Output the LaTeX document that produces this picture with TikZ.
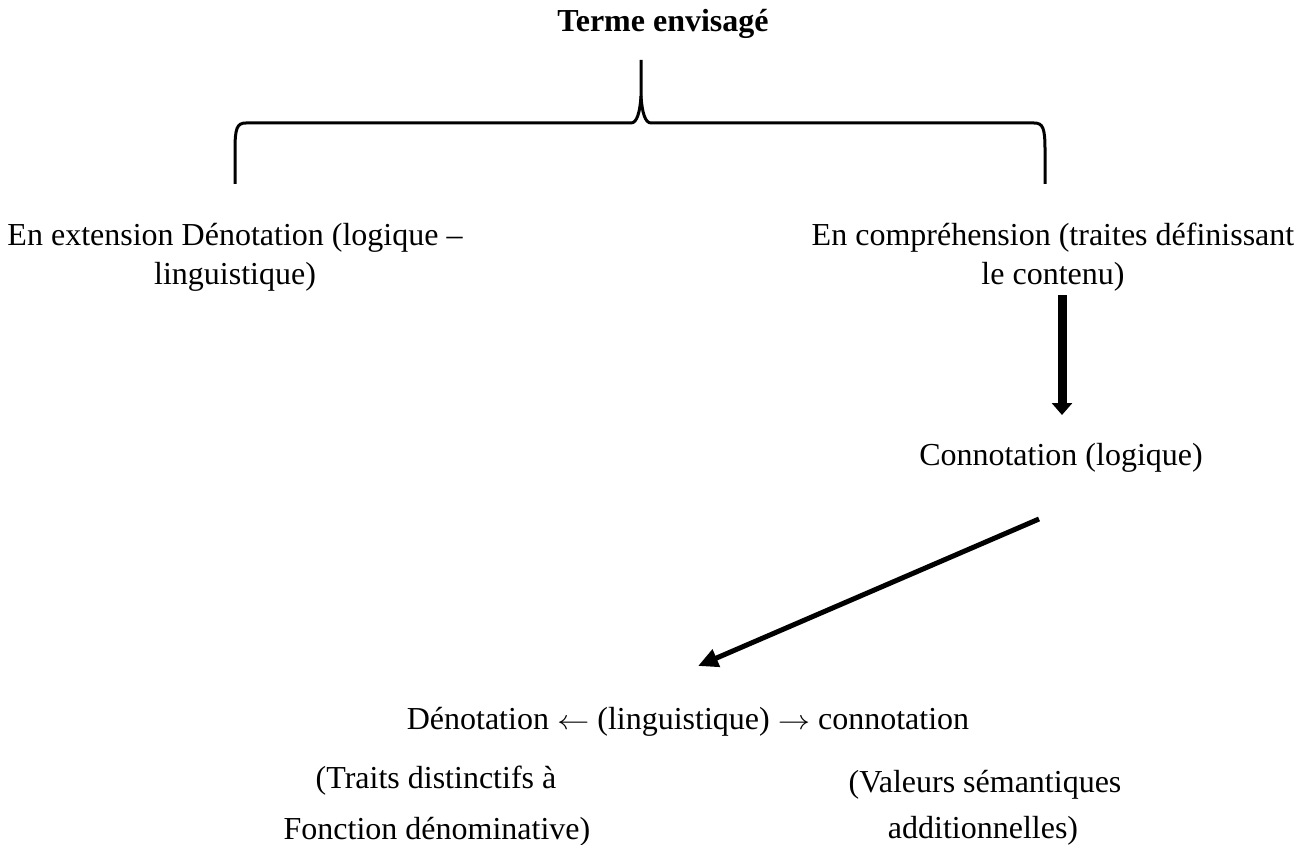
\documentclass[tikz,border=0pt]{standalone}
\usepackage{fontspec}
\setmainfont{Liberation Serif}
\usetikzlibrary{arrows.meta}
\newcommand{\myla}{\scalebox{1.3}[1.1]{$\leftarrow$}}
\newcommand{\myra}{\scalebox{1.3}[1.1]{$\rightarrow$}}
\tikzset{
  txt/.style={inner sep=0pt, align=center, font=\fontsize{32}{39}\selectfont},
  bracestyle/.style={line width=3pt, line join=round},
  bigarrow/.style={line width=9pt, -{Triangle[width=20pt,length=12pt]}},
  diagarrow/.style={line width=5pt, -{Triangle[width=18pt,length=20pt]}}
}
\begin{document}
\begin{tikzpicture}[x=1pt,y=-1pt]
\useasboundingbox (0,0) rectangle (1308,845);
% texts
\node[txt, font=\fontsize{32}{39}\selectfont\bfseries] (terme) at (663,24) {Terme envisagé};
\node[txt] (ext) at (235,257) {En extension Dénotation (logique –\\linguistique)};
\node[txt] (cmp) at (1053,257) {En compréhension (traites définissant\\le contenu)};
\node[txt] (conn) at (1061,458) {Connotation (logique)};
\node[txt] (deno) at (688,722) {Dénotation \myla{} (linguistique) \myra{} connotation};
\node[txt] (traits) at (436,781) {(Traits distinctifs à};
\node[txt] (fonct) at (437,832) {Fonction dénominative)};
\node[txt] (val) at (985,785) {(Valeurs sémantiques};
\node[txt] (add) at (983,831) {additionnelles)};
% brace
\coordinate (peak) at (641,60);
\coordinate (bl) at (235,184);
\coordinate (br) at (1045,184);
\draw[bracestyle] (bl) -- (235,150) .. controls (235,128) and (237,123) .. (246,123)
  -- (631,123) .. controls (637,123) and (640,112) .. (641,96) -- (peak);
\draw[bracestyle] (641,96) .. controls (642,112) and (645,123) .. (651,123)
  -- (1034,123) .. controls (1043,123) and (1045,128) .. (1045,150) -- (br);
% arrows
\coordinate (va) at (1062,295);
\coordinate (vb) at (1062,415);
\draw[bigarrow] (va) -- (vb);
\coordinate (da) at (1039,519);
\coordinate (db) at (698,666);
\draw[diagarrow] (da) -- (db);
\end{tikzpicture}
\end{document}
